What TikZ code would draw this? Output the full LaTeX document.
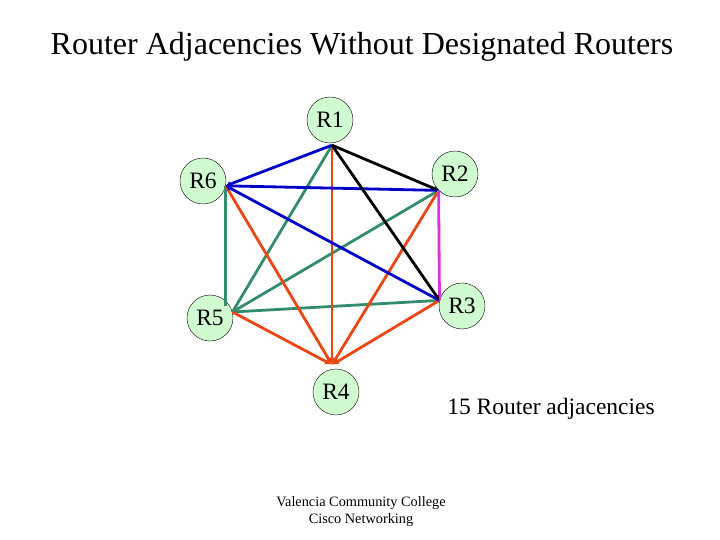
\documentclass[tikz,border=0pt]{standalone}
\usepackage{fontspec}
\setmainfont{Liberation Serif}
\usepackage{tikz}
\usetikzlibrary{arrows.meta,calc}

\definecolor{rtrfill}{RGB}{208,250,208}
\definecolor{adjblue}{RGB}{0,0,200}
\definecolor{adjgreen}{RGB}{51,140,110}
\definecolor{adjorange}{RGB}{235,70,20}
\definecolor{adjmagenta}{RGB}{220,50,220}

\begin{document}
\begin{tikzpicture}[
    x=1pt, y=-1pt, >={Latex[length=7pt,width=6pt]},
    router/.style={draw, circle, fill=rtrfill, minimum size=46pt, inner sep=0pt, font=\fontsize{23.5}{25}\selectfont},
    adj/.style   ={line width=2.8pt}
]
\useasboundingbox (0,0) rectangle (720,540);

% --- Title ---
\node[font=\fontsize{32}{35}\selectfont] (title) at (362,47) {Router Adjacencies Without Designated Routers};

% --- Routers ---
\node[router] (r1) at (330,120) {R1};
\node[router] (r2) at (455,174) {R2};
\node[router] (r3) at (462,306) {R3};
\node[router] (r4) at (336,392) {R4};
\node[router] (r5) at (210,318) {R5};
\node[router] (r6) at (203,181) {R6};

% --- Attachment points ---
\coordinate (p1) at ($(r1.south)+(2,2)$);
\coordinate (p2) at (r2.south west);
\coordinate (p3) at (r3.166);
\coordinate (p4) at ($(r4.north)+(-4,-4)$);
\coordinate (p5) at (r5.15);
\coordinate (p6) at (r6.-12);

% --- Green adjacencies ---
\draw[adj, adjgreen] (p1) -- (p5);
\draw[adj, adjgreen] (p2) -- (p5);
\draw[adj, adjgreen] (p3) -- (p5);
\draw[adj, adjgreen] (p6) -- ($(p6 |- p5)+(0,-6)$);

% --- Orange adjacencies (to R4) ---
\draw[adj, adjorange, ->] (p1) -- (p4);
\draw[adj, adjorange, ->] (p6) -- (p4);
\draw[adj, adjorange, ->] (p5) -- (p4);
\draw[adj, adjorange, ->] (p3) -- (p4);
\draw[adj, adjorange, <->, >={Latex[length=4pt,width=4pt]}] (p2) -- (p4);

% --- Blue adjacencies (to R6) ---
\draw[adj, adjblue, ->, >={Latex[length=5pt,width=6pt]}] (p1) -- (p6);
\draw[adj, adjblue, ->, >={Latex[length=5pt,width=6pt]}] (p2) -- (p6);
\draw[adj, adjblue, ->, >={Latex[length=5pt,width=6pt]}] (p3) -- (p6);

% --- Magenta and black ---
\draw[adj, adjmagenta] (p2) -- (p3);
\draw[adj, black, ->, >={Latex[length=5pt,width=5pt]}] (p1) -- (p2);
\draw[adj, black, ->, >={Latex[length=5pt,width=5pt]}] (p1) -- (p3);

% --- Notes ---
\node[font=\fontsize{23.5}{25}\selectfont] (count) at (551,409) {15 Router adjacencies};
\node[font=\fontsize{14.3}{17}\selectfont, align=center] (footer) at (361,512) {Valencia Community College\\Cisco Networking};

\end{tikzpicture}
\end{document}
